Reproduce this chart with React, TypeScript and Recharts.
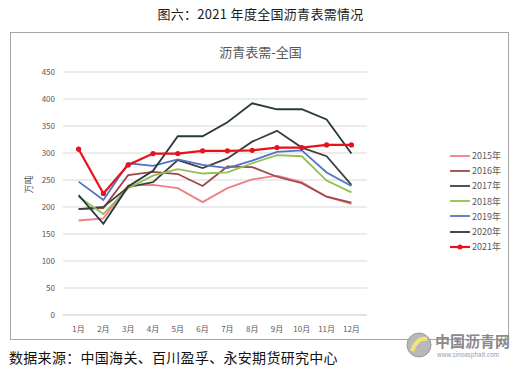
import React from 'react';
import { LineChart, Line, XAxis, YAxis, CartesianGrid, Legend } from 'recharts';

const months = ['1月', '2月', '3月', '4月', '5月', '6月', '7月', '8月', '9月', '10月', '11月', '12月'];
const y2015 = [175, 179, 240, 241, 235, 209, 235, 251, 258, 246, 219, 206];
const y2016 = [196, 198, 259, 265, 261, 239, 275, 274, 256, 244, 219, 208];
const y2017 = [196, 200, 237, 246, 287, 272, 290, 321, 341, 310, 294, 241];
const y2018 = [219, 187, 235, 258, 270, 262, 264, 281, 296, 294, 249, 227];
const y2019 = [247, 213, 281, 276, 288, 278, 272, 286, 302, 305, 264, 239];
const y2020 = [222, 169, 238, 267, 331, 331, 357, 392, 381, 381, 362, 299];
const y2021 = [307, 225, 278, 299, 299, 304, 304, 305, 310, 310, 315, 315];
const yTicks = [0, 50, 100, 150, 200, 250, 300, 350, 400, 450];

const seriesList = [
  { key: 's2015', name: '2015年', values: y2015, color: '#EE7F86', width: 1.8 },
  { key: 's2016', name: '2016年', values: y2016, color: '#9E474C', width: 1.8 },
  { key: 's2017', name: '2017年', values: y2017, color: '#404040', width: 1.8 },
  { key: 's2018', name: '2018年', values: y2018, color: '#92C050', width: 1.8 },
  { key: 's2019', name: '2019年', values: y2019, color: '#4F74C4', width: 1.8 },
  { key: 's2020', name: '2020年', values: y2020, color: '#27393F', width: 1.8 },
  { key: 's2021', name: '2021年', values: y2021, color: '#E8121C', width: 2.2 },
];

const data = months.map((m, i) => {
  const row: Record<string, string | number> = { month: m };
  seriesList.forEach((s) => {
    row[s.key] = s.values[i];
  });
  return row;
});

const FONT = '"Noto Sans CJK SC", "Noto Sans", sans-serif';

const LegendContent = () => (
  <div style={{ fontFamily: FONT, fontSize: 9, color: '#595959' }}>
    {seriesList.map((s) => (
      <div key={s.key} style={{ display: 'flex', alignItems: 'center', height: 15.2 }}>
        <svg width={21} height={8} style={{ marginRight: 1 }}>
          <line x1={0} y1={4} x2={20} y2={4} stroke={s.color} strokeWidth={s.width} />
          {s.key === 's2021' ? <circle cx={10} cy={4} r={2.5} fill={s.color} /> : null}
        </svg>
        <span>{s.name}</span>
      </div>
    ))}
  </div>
);

export default function App() {
  return (
    <div style={{ position: 'absolute', left: 0, top: 0, width: 521, height: 374, background: '#fff', fontFamily: FONT }}>
      <div
        style={{
          position: 'absolute',
          left: 0,
          top: 4,
          width: 521,
          textAlign: 'center',
          fontSize: 13,
          color: '#1a1a1a',
          letterSpacing: 0.3,
        }}
      >
        图六：2021 年度全国沥青表需情况
      </div>
      <div
        style={{
          position: 'absolute',
          left: 10,
          top: 32,
          width: 497,
          height: 306,
          border: '1px solid #A6A6A6',
        }}
      />
      <div
        style={{
          position: 'absolute',
          left: 0,
          top: 42,
          width: 521,
          textAlign: 'center',
          fontSize: 13,
          color: '#595959',
        }}
      >
        沥青表需-全国
      </div>
      <div style={{ position: 'absolute', left: 0, top: 0 }}>
        <LineChart width={521} height={374} data={data} margin={{ top: 72, right: 84, bottom: 29, left: 23 }}>
          <CartesianGrid vertical={false} stroke="#D9D9D9" strokeWidth={1} />
          <XAxis
            dataKey="month"
            padding={{ left: 15.6, right: 15.6 }}
            tick={{ fontSize: 8, fill: '#595959', fontFamily: FONT }}
            tickLine={false}
            axisLine={{ stroke: '#D9D9D9' }}
            height={30}
            tickMargin={5}
            interval={0}
          />
          <YAxis
            domain={[0, 450]}
            ticks={yTicks}
            width={40}
            tick={{ fontSize: 8, fill: '#595959', fontFamily: FONT }}
            tickLine={false}
            axisLine={false}
            tickMargin={2}
            label={{ value: '万吨', angle: -90, position: 'insideLeft', offset: 6, style: { fontSize: 9, fill: '#595959', fontFamily: FONT } }}
          />
          <Legend
            layout="vertical"
            verticalAlign="top"
            align="right"
            content={<LegendContent />}
            wrapperStyle={{ left: 450, top: 148, width: 70 }}
          />
          {seriesList.map((s) => (
            <Line
              key={s.key}
              type="linear"
              dataKey={s.key}
              name={s.name}
              stroke={s.color}
              strokeWidth={s.width}
              dot={s.key === 's2021' ? { r: 2.6, fill: s.color, stroke: s.color, strokeWidth: 0 } : false}
              activeDot={false}
              isAnimationActive={false}
            />
          ))}
        </LineChart>
      </div>
      <div style={{ position: 'absolute', left: 405, top: 330, width: 110, height: 34 }}>
        <svg width={28} height={28} style={{ position: 'absolute', left: 0, top: 1 }}>
          <circle cx={14} cy={14} r={12} fill="#B8B8B8" />
          <path d="M7 20 Q12 6 22 8" stroke="#F2E27A" strokeWidth={4} fill="none" />
          <circle cx={14} cy={14} r={12} fill="none" stroke="#9A9A9A" strokeWidth={1} />
        </svg>
        <div style={{ position: 'absolute', left: 30, top: 0, fontSize: 15, fontWeight: 700, color: '#8A8A8A', whiteSpace: 'nowrap' }}>
          中国沥青网
        </div>
        <div style={{ position: 'absolute', left: 32, top: 20, fontSize: 6, color: '#9A9A9A', whiteSpace: 'nowrap' }}>
          www.sinoasphalt.com
        </div>
      </div>
      <div
        style={{
          position: 'absolute',
          left: 9,
          top: 347,
          fontSize: 14,
          color: '#111',
          whiteSpace: 'nowrap',
          letterSpacing: 0.3,
        }}
      >
        数据来源：中国海关、百川盈孚、永安期货研究中心
      </div>
    </div>
  );
}
